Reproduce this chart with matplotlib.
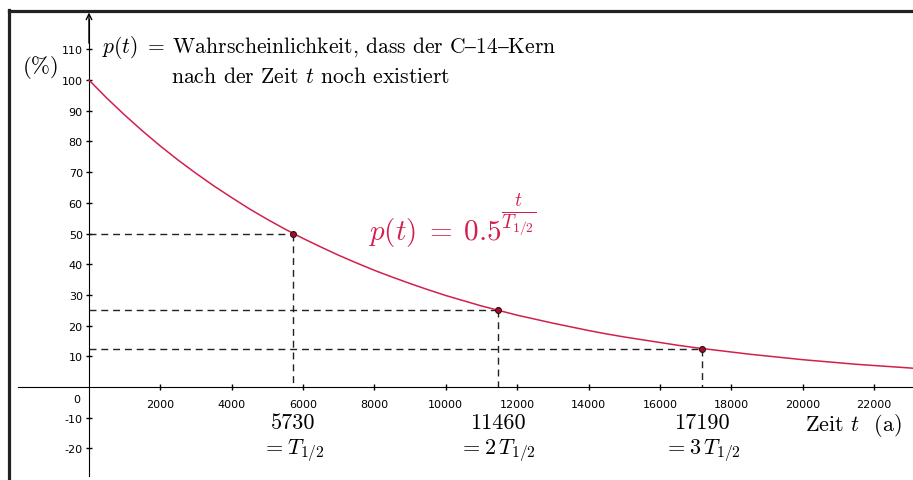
import matplotlib
matplotlib.use('Agg')
import matplotlib.pyplot as plt
from matplotlib.lines import Line2D

plt.rcParams['mathtext.fontset'] = 'cm'
plt.rcParams['axes.unicode_minus'] = False

# (years, percent)
t_years = list(range(0, 23001, 500)) + [23100]
p_percent = [100, 94.1, 88.6, 83.4, 78.5, 73.9, 69.6, 65.5, 61.7, 58.0,
             54.6, 51.4, 48.4, 45.6, 42.9, 40.4, 38.0, 35.8, 33.7, 31.7,
             29.8, 28.1, 26.4, 24.9, 23.4, 22.1, 20.8, 19.6, 18.4, 17.3,
             16.3, 15.4, 14.5, 13.6, 12.8, 12.1, 11.4, 10.7, 10.1, 9.5,
             8.9, 8.4, 7.9, 7.4, 7.0, 6.6, 6.2, 6.1]

half_t = [5730, 11460, 17190]
half_p = [50, 25, 12.5]
half_lbl = [r'$= T_{1/2}$', r'$= 2\,T_{1/2}$', r'$= 3\,T_{1/2}$']

x_ticks = list(range(2000, 22001, 2000))
y_ticks = [-20, -10, 10, 20, 30, 40, 50, 60, 70, 80, 90, 100, 110]

RED = '#d2204c'
SERIF = ['cmr10', 'DejaVu Serif']

fig = plt.figure(figsize=(9.13, 4.81), dpi=100)
ax = fig.add_axes([0, 0, 1, 1])
ax.set_xlim(-2494, 23094)
ax.set_ylim(-30.3, 126.4)

for s in ['top', 'right']:
    ax.spines[s].set_visible(False)
ax.spines['left'].set_position(('data', 0))
ax.spines['bottom'].set_position(('data', 0))
ax.spines['left'].set_bounds(-29, 120)
ax.spines['bottom'].set_bounds(-1990, 23094)
ax.annotate('', xy=(0, 122), xytext=(0, 112),
            arrowprops=dict(arrowstyle='->', lw=1, color='black',
                            shrinkA=0, shrinkB=0))

ax.set_xticks(x_ticks)
ax.set_yticks(y_ticks)
ax.tick_params(direction='inout', length=5, width=1, labelsize=8, pad=2)
ax.tick_params(axis='x', pad=6)
ax.text(-340, -4, '0', fontsize=8, ha='center', va='center')

# curve
ax.plot(t_years, p_percent, color=RED, lw=1.1, zorder=3)

# dashed helper lines + points
for t, p in zip(half_t, half_p):
    ax.plot([0, t], [p, p], color='#222222', lw=1, ls=(0, (5, 3.5)), zorder=2)
    ax.plot([t, t], [p, 0], color='#222222', lw=1, ls=(0, (5, 3.5)), zorder=2)
ax.scatter(half_t, half_p, s=18, color='#a0102c', edgecolor='#3a0a10',
           linewidth=0.8, zorder=4)

for t, lbl in zip(half_t, half_lbl):
    ax.text(t, -11.5, str(t), fontsize=16, ha='center', va='center',
            family=SERIF)
    ax.text(t, -20.3, lbl, fontsize=16, ha='center', va='center')

ax.text(20070, -12.3, r'Zeit $t$  (a)', fontsize=16, ha='left', va='center',
        family=SERIF)
ax.text(-1850, 104.5, r'(%)', fontsize=16.5, ha='left', va='center',
        family=SERIF)
ax.text(370, 111, r'$p(t)\;=\;$Wahrscheinlichkeit, dass der C$\mathrm{–}$14$\mathrm{–}$Kern',
        fontsize=15.5, ha='left', va='center', family=SERIF)
ax.text(2300, 101.3, r'nach der Zeit $t$ noch existiert',
        fontsize=15.7, ha='left', va='center', family=SERIF)
ax.text(7830, 48.2, r'$p(t)\;=\;0.5$', fontsize=21,
        color=RED, ha='left', va='baseline')
ax.text(11540, 56.3, r'$\frac{t}{T_{1/2}}$', fontsize=20,
        color=RED, ha='left', va='center')

# dark frame at top and left
fig.add_artist(Line2D([0.0098, 1], [0.9757, 0.9757], color='#222222', lw=2.3,
                      transform=fig.transFigure))
fig.add_artist(Line2D([0.0104, 0.0104], [0, 0.977], color='#222222', lw=2.3,
                      transform=fig.transFigure))

fig.savefig('out.png', dpi=100)
